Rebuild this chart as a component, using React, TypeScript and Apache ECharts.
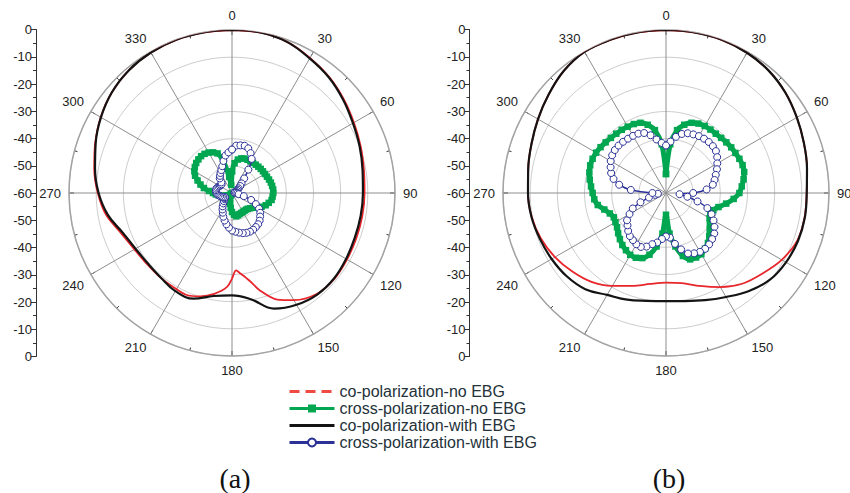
import React, { useEffect, useRef } from 'react';
import * as echarts from 'echarts';

// ---------- names / labels ----------
const SERIES_NAMES = [
  'co-polarization-no EBG',
  'cross-polarization-no EBG',
  'co-polarization-with EBG',
  'cross-polarization-with EBG',
];
const VERTICAL_TICK_LABELS = ['0', '-10', '-20', '-30', '-40', '-50', '-60', '-50', '-40', '-30', '-20', '-10', '0'];
const PANEL_LABELS = ['(a)', '(b)'];

// ---------- sampling angles (degrees) ----------
const ANG10 = [0, 10, 20, 30, 40, 50, 60, 70, 80, 90, 100, 110, 120, 130, 140, 150, 160, 170, 180, 190, 200, 210, 220, 230, 240, 250, 260, 270, 280, 290, 300, 310, 320, 330, 340, 350];
const ANG5 = [0, 5, 10, 15, 20, 25, 30, 35, 40, 45, 50, 55, 60, 65, 70, 75, 80, 85, 90, 95, 100, 105, 110, 115, 120, 125, 130, 135, 140, 145, 150, 155, 160, 165, 170, 175, 180, 185, 190, 195, 200, 205, 210, 215, 220, 225, 230, 235, 240, 245, 250, 255, 260, 265, 270, 275, 280, 285, 290, 295, 300, 305, 310, 315, 320, 325, 330, 335, 340, 345, 350, 355];

// ---------- panel (a) ----------
const A_CO_NO_ANG = [0, 10, 20, 30, 40, 50, 60, 70, 80, 90, 100, 110, 120, 130, 140, 150, 157, 164, 169, 174, 177, 180, 183, 190, 197, 204, 212, 220, 230, 240, 250, 260, 270, 280, 290, 300, 310, 320, 330, 340, 350];
const A_CO_NO = [0, 0, -0.8, -2.6, -4.3, -6.3, -8.2, -9.6, -10.7, -11.2, -11.3, -11.3, -11.1, -10.8, -11.5, -14.5, -17.4, -22.7, -27.3, -30.2, -31.5, -28.5, -25.4, -22.3, -20.2, -18.9, -19.2, -19.2, -19.2, -18.5, -16.6, -13, -10.6, -8.5, -6.4, -4.2, -2.3, -1, -0.3, 0, 0];
const A_CO_WITH = [0, 0, -0.8, -2.8, -4.5, -6.6, -8.6, -10, -11.2, -11.8, -11.9, -11.9, -11.5, -11, -11.2, -12.5, -14.7, -20.3, -22.3, -21.5, -18.6, -18.3, -19.3, -19.6, -19, -17.2, -13.6, -10.9, -8.8, -6.6, -4.3, -2.3, -1, -0.3, 0, 0];
const A_X_NO = [-52, -49, -47.5, -46.8, -46.5, -46.5, -46.5, -46.5, -46.4, -46.3, -46.2, -46.1, -46, -45.8, -45.5, -45.2, -45, -44.8, -44.8, -45, -45.2, -46, -46.8, -48, -49.5, -50.5, -51.3, -51.8, -52, -52, -52, -51.9, -51.8, -51.5, -51.3, -52, -53, -54.5, -56, -57, -58, -59, -59.5, -60, -60, -59.5, -59, -58.5, -58, -57.5, -57, -56, -55, -54, -53, -51.5, -49.5, -48, -46.5, -45, -44, -43.3, -42.8, -42.5, -42.3, -42.4, -42.8, -43.5, -44.5, -48, -54, -57];
const A_X_WITH = [-44, -42.5, -42.2, -42, -42.5, -43.8, -45.5, -49.5, -53, -55, -56, -57, -57.5, -58, -58.5, -59, -59, -59, -58.5, -58, -57.5, -55.5, -52.5, -50.3, -48.5, -47.3, -46.5, -45.6, -45, -44.7, -44.4, -44.3, -44.4, -44.7, -45.2, -45.7, -46.2, -47.2, -48.3, -49.5, -50.7, -52, -53, -54, -55, -55.8, -56.5, -56.8, -57, -56.5, -56, -55.5, -55, -54.6, -54.3, -54.1, -54, -54, -54.2, -54.5, -54.8, -55, -55, -54.5, -53, -52.3, -51.5, -50.7, -49.5, -47.8, -46, -45];

// ---------- panel (b) ----------
const B_CO_NO = [0, 0, 0, -0.4, -1.2, -2.6, -4.4, -6, -7.3, -8.2, -8.2, -8.6, -10.8, -13.8, -16.4, -20, -23.6, -26.3, -27, -26, -23.6, -20.5, -17.3, -15, -12.8, -11, -9.8, -9.2, -8.5, -7.3, -5.6, -3.6, -1.4, 0, 0, 0];
const B_CO_WITH = [0, 0, 0, -0.4, -1.2, -2.6, -4.4, -6, -7.3, -8.2, -8.1, -8.3, -9, -10.2, -12.8, -15.8, -18, -19.6, -20.2, -19.7, -18.2, -16.7, -13.8, -12.3, -11.4, -10.6, -9.7, -9.2, -8.5, -7.3, -5.6, -3.6, -1.4, 0, 0, 0];
const B_X_NO = [-53, -42, -36.5, -34, -32.5, -31.8, -31.5, -31.5, -31.5, -31.3, -31, -30.7, -30.5, -30.2, -30, -30.2, -31, -32, -33, -35, -37.5, -40, -41.5, -42, -41.5, -40.3, -39, -37.5, -36, -35, -34, -33.8, -34, -36, -40, -45, -52, -45, -40, -36.5, -34.5, -33.7, -33.7, -34.3, -35, -36, -37, -38, -38.5, -38.8, -38, -36.5, -34.5, -33.5, -33, -32.3, -31.5, -30.8, -30.3, -30.2, -30.3, -30.6, -31, -31.3, -31.5, -31.6, -31.8, -32, -32.5, -34, -36.5, -42];
const B_X_WITH = [-42.5, -41, -39, -37.5, -36.6, -36.2, -35.8, -35.6, -35.5, -35.6, -36, -37, -38.2, -39.3, -40.5, -41.5, -42.5, -45, -50, -55, -52, -48, -43.8, -41.5, -39.8, -38.2, -36.8, -36, -35.3, -34.9, -35, -35.5, -36.3, -38.5, -41, -43.5, -44, -43, -41.5, -40.5, -39, -38.1, -38.2, -38.8, -39.3, -40.3, -41.5, -42.5, -44.5, -46.5, -50, -53.5, -56, -57, -55, -47, -42.5, -40, -38.5, -37.5, -36.5, -35.8, -35.4, -35.3, -35.4, -35.6, -35.7, -35.9, -36.5, -38, -40, -41.5];

// ---------- styling ----------
const RED = '#e8252b';
const BLACK = '#141414';
const GREEN = '#00a650';
const BLUE = '#2b3196';
const SANS = '"Liberation Sans", Arial, Helvetica, sans-serif';
const SERIF = '"Liberation Serif", "Times New Roman", serif';

const CENTERS: [number, number][] = [[232, 193], [666, 193]];
const RADIUS = 163;
const VAXIS_X = [36, 469.5];

function closed(angles: number[], values: number[]) {
  const d = angles.map((a, i) => [values[i], a]);
  d.push([values[0], 360]);
  return d;
}

function panelSeries(p: number, coNo: number[], coNoAng: number[], coWith: number[], xNo: number[], xWith: number[]) {
  return [
    {
      name: SERIES_NAMES[0], type: 'line', coordinateSystem: 'polar', polarIndex: p,
      data: closed(coNoAng, coNo), symbol: 'none', smooth: 0.3, z: 2,
      lineStyle: { color: RED, width: 1.8 }, itemStyle: { color: RED },
    },
    {
      name: SERIES_NAMES[2], type: 'line', coordinateSystem: 'polar', polarIndex: p,
      data: closed(ANG10, coWith), symbol: 'none', smooth: 0.4, z: 3,
      lineStyle: { color: BLACK, width: 2.2 }, itemStyle: { color: BLACK },
    },
    {
      name: SERIES_NAMES[1], type: 'line', coordinateSystem: 'polar', polarIndex: p,
      data: closed(ANG5, xNo), symbol: 'rect', symbolSize: 6.5, showSymbol: true, smooth: 0.3, z: 4,
      lineStyle: { color: GREEN, width: 5 }, itemStyle: { color: GREEN },
    },
    {
      name: SERIES_NAMES[3], type: 'line', coordinateSystem: 'polar', polarIndex: p,
      data: closed(ANG5, xWith), symbol: 'circle', symbolSize: 7, showSymbol: true, smooth: 0.3, z: 5,
      lineStyle: { color: BLUE, width: 1.5 }, itemStyle: { color: '#ffffff', borderColor: BLUE, borderWidth: 1 },
    },
  ];
}

export default function App() {
  const ref = useRef<HTMLDivElement>(null);

  useEffect(() => {
    if (!ref.current) return;
    const chart = echarts.init(ref.current, null, { renderer: 'svg' });

    const polar = CENTERS.map((c) => ({ center: c, radius: RADIUS }));
    const angleAxis = CENTERS.map((_, i) => ({
      polarIndex: i, type: 'value', min: 0, max: 360, interval: 30,
      startAngle: 90, clockwise: true,
      axisLine: { show: true, lineStyle: { color: '#a3a3a3', width: 1.5 } },
      axisTick: { show: true, inside: true, length: 5, lineStyle: { color: '#333', width: 1 } },
      minorTick: { show: true, splitNumber: 2, length: 3, lineStyle: { color: '#333', width: 1 } },
      splitLine: { show: true, lineStyle: { color: '#8e8e8e', width: 1 } },
      axisLabel: { show: true, margin: 8, fontSize: 13, color: '#222', fontFamily: SANS },
    }));
    const radiusAxis = CENTERS.map((_, i) => ({
      polarIndex: i, type: 'value', min: -60, max: 0, interval: 10,
      axisLine: { show: false }, axisTick: { show: false }, axisLabel: { show: false },
      splitLine: { show: true, lineStyle: { color: '#cdcdcd', width: 1 } },
    }));

    const grid = VAXIS_X.map((x) => ({ left: x, top: 29.5, width: 10, height: 327 }));
    const xAxis = VAXIS_X.map((_, i) => ({ gridIndex: i, type: 'value', min: 0, max: 1, show: false }));
    const yAxis = VAXIS_X.map((_, i) => ({
      gridIndex: i, type: 'value', min: 0, max: 120, interval: 10,
      axisLine: { show: true, lineStyle: { color: '#333', width: 1 } },
      axisTick: { show: true, length: 5, lineStyle: { color: '#333' } },
      minorTick: { show: true, splitNumber: 2, length: 3, lineStyle: { color: '#333' } },
      splitLine: { show: false },
      axisLabel: {
        margin: 4, fontSize: 13, color: '#222', fontFamily: SANS,
        formatter: (v: number) => VERTICAL_TICK_LABELS[Math.round((120 - v) / 10)] ?? '',
      },
    }));

    const series = [
      ...panelSeries(0, A_CO_NO, A_CO_NO_ANG, A_CO_WITH, A_X_NO, A_X_WITH),
      ...panelSeries(1, B_CO_NO, ANG10, B_CO_WITH, B_X_NO, B_X_WITH),
    ];

    chart.setOption({
      animation: false,
      backgroundColor: '#ffffff',
      polar,
      angleAxis,
      radiusAxis,
      grid,
      xAxis,
      yAxis,
      legend: {
        left: 283, top: 378.5, orient: 'vertical', selectedMode: false,
        itemWidth: 45, itemHeight: 10, itemGap: 1,
        textStyle: { fontSize: 16, lineHeight: 16, color: '#24323a', fontFamily: SANS },
        data: [
          { name: SERIES_NAMES[0], itemStyle: { opacity: 0 }, lineStyle: { type: [10, 6], width: 3, color: '#ee4a42' } },
          { name: SERIES_NAMES[1], lineStyle: { width: 3 } },
          { name: SERIES_NAMES[2], itemStyle: { opacity: 0 }, lineStyle: { width: 3 } },
          { name: SERIES_NAMES[3], lineStyle: { width: 3 } },
        ],
      },
      graphic: PANEL_LABELS.map((t, i) => ({
        type: 'text', x: CENTERS[i][0] + 3, y: 478,
        style: { text: t, font: `28px ${SERIF}`, fill: '#111', textAlign: 'center', textVerticalAlign: 'middle' },
      })),
      series,
    });

    return () => chart.dispose();
  }, []);

  return <div ref={ref} style={{ position: 'fixed', left: 0, top: 0, width: 850, height: 493 }} />;
}
